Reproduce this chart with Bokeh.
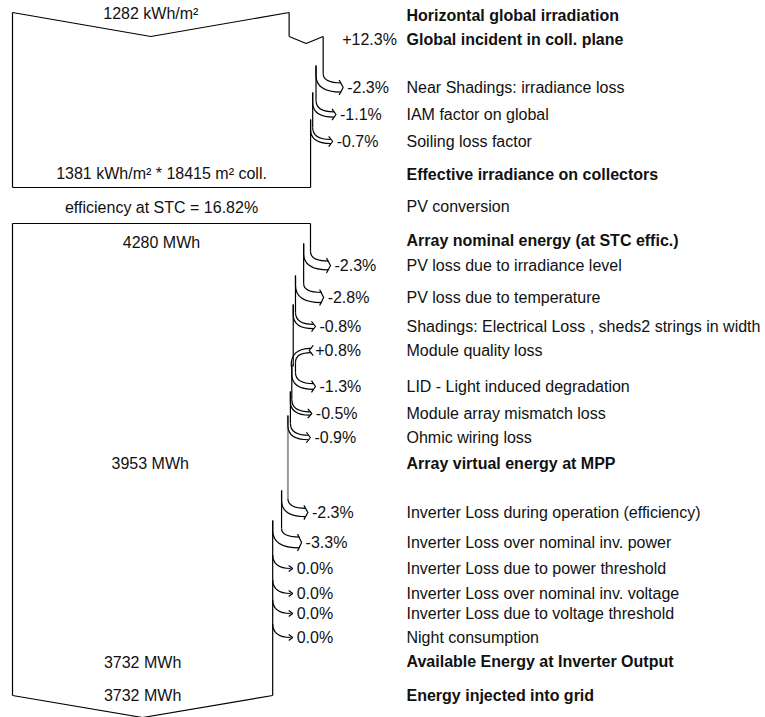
from bokeh.plotting import figure
from bokeh.models import Range1d, ColumnDataSource
from bokeh.core.properties import value
from bokeh.embed import file_html
from bokeh.resources import INLINE

# ---------------- data ----------------
horiz_irr = 1282            # kWh/m²
incident_gain_pct = 12.3
irr_loss_labels = ["Near Shadings: irradiance loss", "IAM factor on global", "Soiling loss factor"]
irr_loss_pct = [-2.3, -1.1, -0.7]
eff_irr = 1381              # kWh/m²
coll_area = 18415           # m²
stc_eff = 16.82             # %
nominal_energy = 4280       # MWh
array_labels = ["PV loss due to irradiance level", "PV loss due to temperature",
                "Shadings: Electrical Loss , sheds2 strings in width", "Module quality loss",
                "LID - Light induced degradation", "Module array mismatch loss", "Ohmic wiring loss"]
array_pct = [-2.3, -2.8, -0.8, 0.8, -1.3, -0.5, -0.9]
mpp_energy = 3953           # MWh
inv_labels = ["Inverter Loss during operation (efficiency)", "Inverter Loss over nominal inv. power",
              "Inverter Loss due to power threshold", "Inverter Loss over nominal inv. voltage",
              "Inverter Loss due to voltage threshold", "Night consumption"]
inv_pct = [-2.3, -3.3, 0.0, 0.0, 0.0, 0.0]
available_energy = 3732     # MWh
injected_energy = 3732      # MWh

# ---------------- layout (positions only) ----------------
LEFT = 12
BOX_W = 298
TOP1 = 12
V_DEPTH = 24
ROW_HORIZ = 15
ROW_INC = 39
ROWS_IRR = [87, 114, 141]
ROW_EFF = 174
BOTTOM1 = 187
ROW_CONV = 206
TOP2 = 223
ROW_NOM = 240
ROWS_ARRAY = [265, 297, 326, 350, 386, 413, 437]
ROW_MPP = 463
ROWS_INV = [512, 542, 568, 593, 613, 637]
ROW_AVAIL = 661
ROW_INJ = 695
BOTTOM2 = 695
LABEL_X = 406
FONT = "Liberation Sans"
FS = "16px"

p = figure(width=765, height=717, output_backend="svg", toolbar_location=None,
           x_range=Range1d(0, 765), y_range=Range1d(717, 0), min_border=0)
p.axis.visible = False
p.grid.visible = False
p.outline_line_color = None
p.background_fill_color = "white"
p.border_fill_color = "white"

black_xs, black_ys = [], []
gray_xs, gray_ys = [], []
quad = dict(x0=[], y0=[], x1=[], y1=[], cx=[], cy=[])
texts_n = dict(x=[], y=[], t=[], align=[])
texts_b = dict(x=[], y=[], t=[], align=[])


def seg(xs, ys, gray=False):
    if gray:
        gray_xs.append(xs); gray_ys.append(ys)
    else:
        black_xs.append(xs); black_ys.append(ys)


def q(x0, y0, x1, y1, cx, cy):
    quad["x0"].append(x0); quad["y0"].append(y0)
    quad["x1"].append(x1); quad["y1"].append(y1)
    quad["cx"].append(cx); quad["cy"].append(cy)


def txt(x, y, t, bold=False, align="left"):
    d = texts_b if bold else texts_n
    d["x"].append(x); d["y"].append(y); d["t"].append(t); d["align"].append(align)


def pct_str(v):
    return ("+" if v > 0 else "") + f"{v:.1f}%"


def step(X, width, pct, y, prev_top, gray=False):
    """Draw one loss/gain arrow at row y; returns new right edge, width, next top."""
    d = width * abs(pct) / 100.0
    tip = X + 20
    if pct > 0:
        hw = d / 2 + 1
        seg([X, X], [prev_top, y + 16], gray)
        q(tip - 2, y - hw, X - 2, y + 16, X - 3, y - hw)
        q(tip - 2, y + hw, X + d, y + 12, X + d, y + hw)
        seg([tip, tip - 4, tip], [y - hw - 3, y, y + hw + 3])
        txt(X + 22, y, pct_str(pct))
        return X + d, width + d, y + 12
    hw = d / 2 + 1 if d > 0 else 0
    seg([X, X], [prev_top, y - 14], gray)
    q(X, y - 14, tip - 2, y - hw, X, y - hw)
    Xi = X - d
    if d > 0:
        seg([Xi, Xi], [y - 22, y - 12])
        q(Xi, y - 12, tip - 2, y + hw, Xi, y + hw)
    seg([tip - 4, tip, tip - 4], [y - hw - 3, y, y + hw + 3])
    txt(X + 24, y, pct_str(pct))
    return Xi, width - d, (y - 22 if d > 0 else y - 14)


# ---------------- section 1: irradiance ----------------
w = BOX_W * horiz_irr / eff_irr
X = LEFT + w
seg([LEFT, LEFT + w / 2, X], [TOP1, TOP1 + V_DEPTH, TOP1])
seg([LEFT, LEFT], [TOP1, BOTTOM1])
seg([X, X], [TOP1, TOP1 + V_DEPTH])
txt(LEFT + w / 2, 13, f"{horiz_irr} kWh/m²", align="center")
g = w * incident_gain_pct / 100.0
seg([X, X + g / 2, X + g], [TOP1 + V_DEPTH, TOP1 + V_DEPTH + 7, TOP1 + V_DEPTH])
txt(X + g + 19, ROW_INC, pct_str(incident_gain_pct))
X += g
w += g
top = TOP1 + V_DEPTH
for pc, y in zip(irr_loss_pct, ROWS_IRR):
    X, w, top = step(X, w, pc, y, top)
seg([X, X], [top, BOTTOM1])
seg([LEFT, X], [BOTTOM1, BOTTOM1])
txt(LEFT + w / 2, 173, f"{eff_irr} kWh/m² * {coll_area} m² coll.", align="center")
txt(LEFT + w / 2, 207, f"efficiency at STC = {stc_eff:.2f}%", align="center")

txt(LABEL_X, ROW_HORIZ, "Horizontal global irradiation", bold=True)
txt(LABEL_X, ROW_INC, "Global incident in coll. plane", bold=True)
for lab, y in zip(irr_loss_labels, ROWS_IRR):
    txt(LABEL_X, y, lab)
txt(LABEL_X, ROW_EFF, "Effective irradiance on collectors", bold=True)
txt(LABEL_X, ROW_CONV, "PV conversion")

# ---------------- section 2: energy ----------------
w = BOX_W
X = LEFT + w
seg([LEFT, X], [TOP2, TOP2])
seg([LEFT, LEFT], [TOP2, BOTTOM2])
txt(LEFT + w / 2, 242, f"{nominal_energy} MWh", align="center")
txt(LABEL_X, ROW_NOM, "Array nominal energy (at STC effic.)", bold=True)
top = TOP2
for pc, y, lab in zip(array_pct, ROWS_ARRAY, array_labels):
    X, w, top = step(X, w, pc, y, top)
    txt(LABEL_X, y, lab)
txt(LEFT + w / 2, ROW_MPP, f"{mpp_energy} MWh", align="center")
txt(LABEL_X, ROW_MPP, "Array virtual energy at MPP", bold=True)
for i, (pc, y, lab) in enumerate(zip(inv_pct, ROWS_INV, inv_labels)):
    X, w, top = step(X, w, pc, y, top, gray=(i == 0))
    txt(LABEL_X, y, lab)
seg([X, X], [top, BOTTOM2])
seg([LEFT, LEFT + w / 2, X], [BOTTOM2, BOTTOM2 + 22, BOTTOM2])
txt(LEFT + w / 2, 662, f"{available_energy} MWh", align="center")
txt(LABEL_X, ROW_AVAIL, "Available Energy at Inverter Output", bold=True)
txt(LEFT + w / 2, ROW_INJ, f"{injected_energy} MWh", align="center")
txt(LABEL_X, ROW_INJ, "Energy injected into grid", bold=True)

# ---------------- render ----------------
p.multi_line(gray_xs, gray_ys, line_color="#9a9a9a", line_width=2)
p.multi_line(black_xs, black_ys, line_color="black", line_width=1.2)
p.quadratic(x0="x0", y0="y0", x1="x1", y1="y1", cx="cx", cy="cy",
            source=ColumnDataSource(quad), line_color="black", line_width=1.2)
p.text(x="x", y="y", text="t", text_align="align", source=ColumnDataSource(texts_n),
       text_font=value(FONT), text_font_size=FS, text_baseline="middle", text_color="#111111")
p.text(x="x", y="y", text="t", text_align="align", source=ColumnDataSource(texts_b),
       text_font=value(FONT), text_font_size=FS, text_font_style="bold",
       text_baseline="middle", text_color="#111111")

open("out.html", "w").write(file_html(p, INLINE))
